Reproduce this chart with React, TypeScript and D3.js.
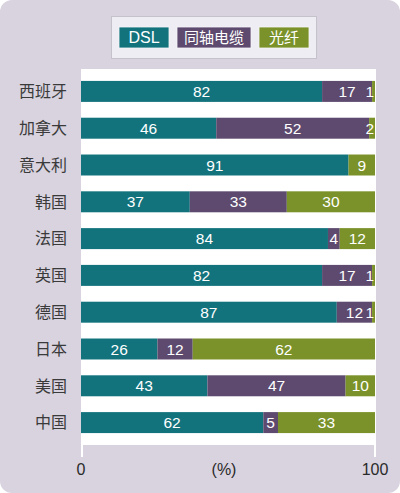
import React from "react";
import * as d3 from "d3";

const countries = ["西班牙", "加拿大", "意大利", "韩国", "法国", "英国", "德国", "日本", "美国", "中国"];
const dsl = [82, 46, 91, 37, 84, 82, 87, 26, 43, 62];
const cable = [17, 52, 0, 33, 4, 17, 12, 12, 47, 5];
const fibre = [1, 2, 9, 30, 12, 1, 1, 62, 10, 33];
const seriesNames = ["DSL", "同轴电缆", "光纤"];
const colors = ["#12737d", "#5d4a6e", "#7a9229"];
const xTicks = [0, 100];

const W = 400;
const H = 493;
const plot = { left: 81, right: 376, top: 69, bottom: 445 };
const labelFont = "'Liberation Sans Narrow', 'Liberation Sans', Arial, sans-serif";
const cjkFont = "'Noto Sans CJK SC', 'Liberation Sans', sans-serif";

const App: React.FC = () => {
  const x = d3.scaleLinear().domain([0, 100]).range([plot.left, plot.right - 1]);
  const y = d3
    .scaleBand<string>()
    .domain(countries)
    .range([plot.top, plot.bottom])
    .paddingInner(0.43)
    .paddingOuter(0.324);

  const rows = countries.map((c, i) => ({ country: c, DSL: dsl[i], 同轴电缆: cable[i], 光纤: fibre[i] }));
  const stacked = d3.stack<any>().keys(seriesNames)(rows);

  // legend boxes
  const legendItems = [
    { name: seriesNames[0], x: 119, w: 50 },
    { name: seriesNames[1], x: 177, w: 74 },
    { name: seriesNames[2], x: 259, w: 50 },
  ];

  return (
    <svg width={W} height={H} style={{ position: "absolute", left: 0, top: 0 }}>
      <rect x={0} y={0} width={W} height={H} fill="#ffffff" />
      <rect x={0} y={0} width={W} height={H} rx={12} fill="#d8d3df" />

      {/* legend */}
      <rect x={111.5} y={16.5} width={205} height={42} fill="#eeedf3" stroke="#c6c2cb" />
      {legendItems.map((it, i) => (
        <g key={it.name}>
          <rect x={it.x} y={27} width={it.w} height={21} fill={colors[i]} stroke="#f4f4f8" strokeWidth={0.8} />
          <text
            x={it.x + it.w / 2}
            y={37.5}
            dy="0.35em"
            textAnchor="middle"
            fill="#fff"
            fontSize={i === 0 ? 16 : 15}
            fontFamily={i === 0 ? labelFont : cjkFont}
          >
            {it.name}
          </text>
        </g>
      ))}

      {/* plot area */}
      <rect x={plot.left} y={plot.top} width={plot.right - plot.left} height={plot.bottom - plot.top} fill="#fff" />
      {xTicks.map((t) => (
        <line key={t} x1={x(t) + (t === 0 ? 1 : 0)} x2={x(t) + (t === 0 ? 1 : 0)} y1={plot.bottom} y2={457} stroke="#fff" strokeWidth={2} />
      ))}

      {stacked.map((s, si) => (
        <g key={s.key}>
          {s.map((d, i) => {
            const v = d[1] - d[0];
            if (v <= 0) return null;
            const x0 = x(d[0]);
            const x1 = x(d[1]);
            const yy = y(countries[i])!;
            const small = x1 - x0 < 10;
            return (
              <g key={i}>
                <rect x={x0} y={yy} width={x1 - x0} height={y.bandwidth()} fill={colors[si]} />
                <text
                  x={small ? x1 - 1 : (x0 + x1) / 2}
                  y={yy + y.bandwidth() / 2}
                  dy="0.36em"
                  textAnchor={small ? "end" : "middle"}
                  fill="#fff"
                  fontSize={15.5}
                  fontFamily={labelFont}
                >
                  {v}
                </text>
              </g>
            );
          })}
        </g>
      ))}

      {/* category labels */}
      {countries.map((c) => (
        <text
          key={c}
          x={67}
          y={y(c)! + y.bandwidth() / 2}
          dy="0.36em"
          textAnchor="end"
          fill="#3a3a3a"
          fontSize={16}
          fontFamily={cjkFont}
        >
          {c}
        </text>
      ))}

      {/* axis labels */}
      {xTicks.map((t) => (
        <text key={t} x={x(t)} y={469} dy="0.36em" textAnchor="middle" fill="#2a2a2a" fontSize={16} fontFamily={labelFont}>
          {t}
        </text>
      ))}
      <text x={224} y={469} dy="0.36em" textAnchor="middle" fill="#2a2a2a" fontSize={16} fontFamily={labelFont}>
        (%)
      </text>
    </svg>
  );
};

export default App;
